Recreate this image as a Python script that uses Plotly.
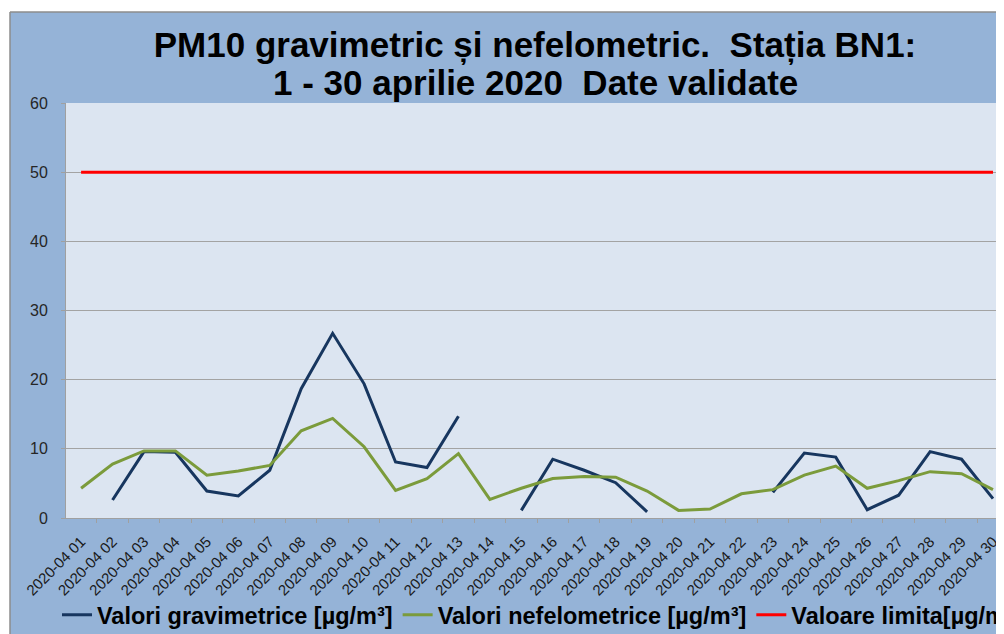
import plotly.graph_objects as go

# zilele din aprilie 2020 (etichete axa x)
zile = ['2020-04 01', '2020-04 02', '2020-04 03', '2020-04 04', '2020-04 05',
        '2020-04 06', '2020-04 07', '2020-04 08', '2020-04 09', '2020-04 10',
        '2020-04 11', '2020-04 12', '2020-04 13', '2020-04 14', '2020-04 15',
        '2020-04 16', '2020-04 17', '2020-04 18', '2020-04 19', '2020-04 20',
        '2020-04 21', '2020-04 22', '2020-04 23', '2020-04 24', '2020-04 25',
        '2020-04 26', '2020-04 27', '2020-04 28', '2020-04 29', '2020-04 30']

# valori (None = lipsa date)
gravimetric = [None, 2.6, 9.6, 9.5, 3.9, 3.2, 6.9, 18.7, 26.7, 19.4,
               8.1, 7.3, 14.7, None, 1.1, 8.5, 6.9, 5.1, 0.9, None,
               None, None, 3.7, 9.4, 8.8, 1.2, 3.3, 9.6, 8.5, 2.8]
nefelometric = [4.3, 7.8, 9.7, 9.7, 6.2, 6.8, 7.6, 12.6, 14.4, 10.3,
                4.0, 5.7, 9.3, 2.7, 4.3, 5.7, 6.0, 5.9, 3.9, 1.1,
                1.3, 3.5, 4.1, 6.2, 7.5, 4.3, 5.4, 6.7, 6.4, 4.1]
limita = [50] * 30

font_fam = 'Liberation Sans, Arial, sans-serif'

fig = go.Figure()
fig.add_trace(go.Scatter(x=zile, y=gravimetric, mode='lines', connectgaps=False,
                         name='Valori gravimetrice [µg/m³]',
                         line=dict(color='#17365f', width=3)))
fig.add_trace(go.Scatter(x=zile, y=nefelometric, mode='lines',
                         name='Valori nefelometrice [µg/m³]',
                         line=dict(color='#7b9b3b', width=3)))
fig.add_trace(go.Scatter(x=zile, y=limita, mode='lines',
                         name='Valoare limita[µg/m³]',
                         line=dict(color='#ff0000', width=3)))

# chenarul alb de sus / stanga si linia de margine
fig.add_shape(type='rect', xref='paper', yref='paper', x0=-0.08, x1=1.02, y0=1.2193, y1=1.3,
              fillcolor='white', line=dict(width=0), layer='below')
fig.add_shape(type='rect', xref='paper', yref='paper', x0=-0.08, x1=-0.0597, y0=-0.3, y1=1.3,
              fillcolor='white', line=dict(width=0), layer='below')
fig.add_shape(type='line', xref='paper', yref='paper', x0=-0.0597, x1=-0.0597, y0=-0.3, y1=1.2193,
              line=dict(color='#8c8c8c', width=1.5), layer='below')
fig.add_shape(type='line', xref='paper', yref='paper', x0=-0.0597, x1=1.02, y0=1.2193, y1=1.2193,
              line=dict(color='#8c8c8c', width=1.5), layer='below')

# al doilea rand din titlu (spatiere mai stransa decat <br>)
fig.add_annotation(text='1 - 30 aprilie 2020  Date validate', xref='paper', yref='paper',
                   x=0.5, y=1.0506, xanchor='center', yanchor='middle', showarrow=False,
                   font=dict(size=35, color='black', weight='bold', family=font_fam))

fig.update_layout(
    width=996, height=626,
    margin=dict(l=58, r=0, t=95, b=116, autoexpand=False),
    paper_bgcolor='#95b3d7',
    plot_bgcolor='#dce5f1',
    font=dict(family=font_fam, color='#262626'),
    title=dict(text='PM10 gravimetric și nefelometric.  Stația BN1:',
               x=0.5, xref='paper', xanchor='center', y=1 - 37 / 626, yref='container', yanchor='middle',
               font=dict(size=35, color='black', weight='bold', family=font_fam)),
    showlegend=True,
    legend=dict(orientation='h', x=-0.0096, xanchor='left', y=-0.2337, yanchor='middle',
                font=dict(size=23.5, color='black', weight='bold', family=font_fam),
                bgcolor='rgba(0,0,0,0)', itemwidth=30, tracegroupgap=0),
)

fig.update_xaxes(type='category', range=[-0.48, 29.35], tickangle=-45,
                 tickfont=dict(size=15, color='#1a1a1a'),
                 showgrid=False, showline=True, linecolor='#a0a0a0', linewidth=1,
                 ticks='outside', tickson='boundaries', ticklen=4, tickcolor='#a0a0a0',
                 ticklabelstandoff=8)
fig.update_yaxes(range=[0, 60], dtick=10, tickfont=dict(size=16, color='#262626'),
                 showgrid=True, gridcolor='#a3a3a3', gridwidth=1,
                 showline=True, linecolor='#a0a0a0', linewidth=1,
                 ticks='outside', ticklen=4, tickcolor='#a0a0a0', ticklabelstandoff=10,
                 zeroline=False)

fig.write_html("out.html")
